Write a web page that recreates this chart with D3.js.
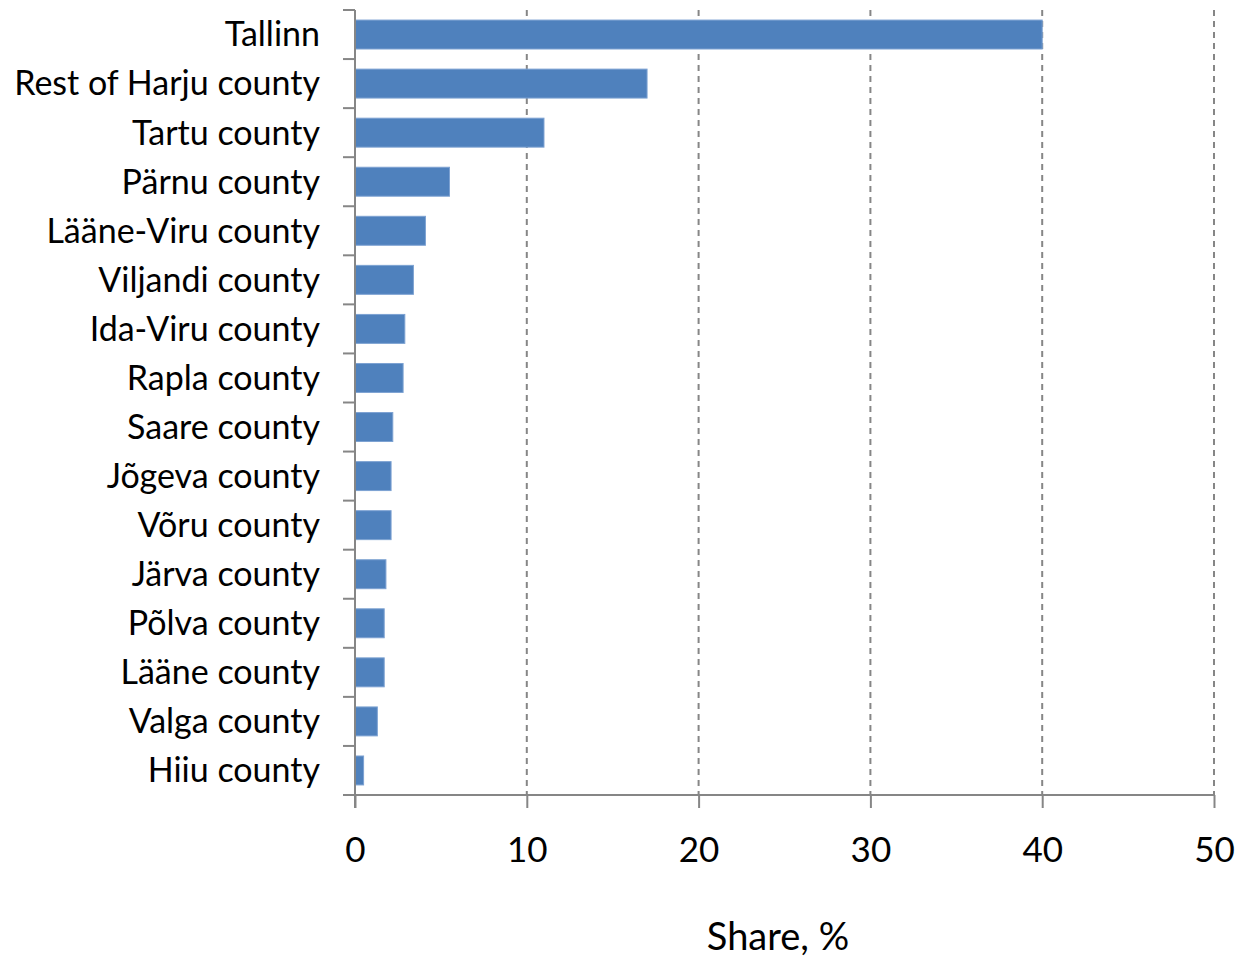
<!DOCTYPE html>
<html>
<head>
<meta charset="utf-8">
<script src="https://cdn.jsdelivr.net/npm/d3@7"></script>
<style>
  body { margin: 0; background: #fff; }
  svg { display: block; font-family: Lato, "Open Sans", sans-serif; }
</style>
</head>
<body>
<svg id="chart" width="1242" height="958"></svg>
<script>
// Share of total by region, %
const regions = [
  "Tallinn", "Rest of Harju county", "Tartu county", "Pärnu county",
  "Lääne-Viru county", "Viljandi county", "Ida-Viru county", "Rapla county",
  "Saare county", "Jõgeva county", "Võru county", "Järva county",
  "Põlva county", "Lääne county", "Valga county", "Hiiu county"
];
const shares = [40, 17, 11, 5.5, 4.1, 3.4, 2.9, 2.8, 2.2, 2.1, 2.1, 1.8, 1.7, 1.7, 1.3, 0.5];
const xTicks = [0, 10, 20, 30, 40, 50];
const xTitle = "Share, %";

const svg = d3.select("#chart");
const plotLeft = 355, plotRight = 1214, plotTop = 10, plotBottom = 795;

const x = d3.scaleLinear().domain([0, 50]).range([plotLeft, plotRight]);
const y = d3.scaleBand().domain(regions).range([plotTop, plotBottom]).paddingInner(0.41).paddingOuter(0.205);

const axisColor = "#868686";

// dashed vertical gridlines
svg.append("g")
  .selectAll("line")
  .data(xTicks.filter(d => d > 0))
  .join("line")
  .attr("x1", d => x(d)).attr("x2", d => x(d))
  .attr("y1", plotTop).attr("y2", plotBottom)
  .attr("stroke", axisColor)
  .attr("stroke-width", 2)
  .attr("stroke-dasharray", "6,5");

// bars
svg.append("g")
  .selectAll("rect")
  .data(regions.map((r, i) => ({ r, v: shares[i] })))
  .join("rect")
  .attr("x", x(0))
  .attr("y", d => y(d.r))
  .attr("width", d => x(d.v) - x(0))
  .attr("height", y.bandwidth())
  .attr("fill", "#4F81BD")
  .attr("stroke", "#7DA2D2")
  .attr("stroke-width", 1);

// x axis
const xAxis = d3.axisBottom(x).tickValues(xTicks).tickSize(13).tickPadding(29).tickSizeOuter(0);
const gx = svg.append("g").attr("transform", `translate(0,${plotBottom})`).call(xAxis);
gx.select(".domain").attr("stroke", axisColor).attr("stroke-width", 2).attr("d", `M${plotLeft - 12},0H${plotRight}`);
gx.selectAll(".tick line").attr("stroke", axisColor).attr("stroke-width", 2);
gx.selectAll(".tick text").attr("fill", "#000").attr("font-size", 35).attr("font-family", "Lato, sans-serif");

// y axis line with ticks at category boundaries
const gy = svg.append("g");
gy.append("line")
  .attr("x1", plotLeft).attr("x2", plotLeft)
  .attr("y1", plotTop).attr("y2", plotBottom + 13)
  .attr("stroke", axisColor).attr("stroke-width", 2);
const step = y.step();
const bounds = d3.range(regions.length).map(i => y(regions[i]) - y.paddingOuter() * step);
gy.selectAll("line.b")
  .data(bounds)
  .join("line")
  .attr("class", "b")
  .attr("x1", plotLeft - 12).attr("x2", plotLeft)
  .attr("y1", d => d).attr("y2", d => d)
  .attr("stroke", axisColor).attr("stroke-width", 2);

// category labels
gy.selectAll("text")
  .data(regions)
  .join("text")
  .attr("x", plotLeft - 35)
  .attr("y", d => y(d) + y.bandwidth() / 2)
  .attr("dy", "0.35em")
  .attr("text-anchor", "end")
  .attr("font-size", 34)
  .attr("fill", "#000")
  .text(d => d);

// axis title
svg.append("text")
  .attr("x", 778)
  .attr("y", 950)
  .attr("text-anchor", "middle")
  .attr("font-size", 38)
  .attr("fill", "#000")
  .text(xTitle);
</script>
</body>
</html>
